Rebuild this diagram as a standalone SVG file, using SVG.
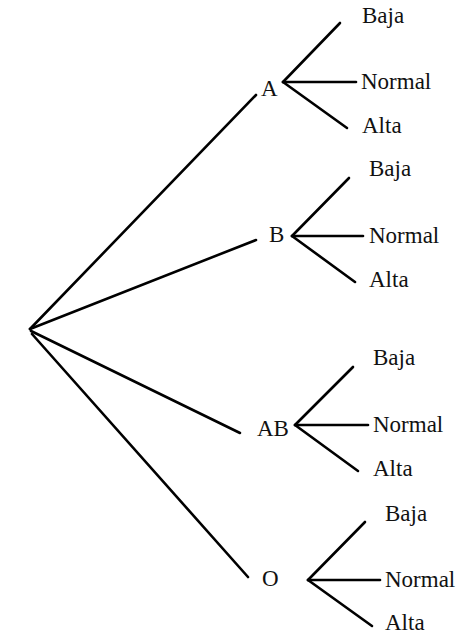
<svg xmlns="http://www.w3.org/2000/svg" width="474" height="641" viewBox="0 0 474 641">
<style>
line{stroke:#000;stroke-width:2.6;stroke-linecap:round}
text{font-family:"Liberation Serif","Times New Roman",serif;font-size:23px;fill:#111}
</style>
<rect width="474" height="641" fill="#fff"/>
<g id="connectors">
<line x1="30" y1="329" x2="256" y2="95"/>
<line x1="30" y1="329" x2="256" y2="240"/>
<line x1="31" y1="331" x2="240" y2="433"/>
<line x1="32" y1="334" x2="248" y2="577"/>
<line x1="283" y1="82" x2="340" y2="23"/>
<line x1="283" y1="82" x2="356" y2="82"/>
<line x1="283" y1="82" x2="347" y2="128"/>
<line x1="292" y1="236" x2="349" y2="178"/>
<line x1="292" y1="236" x2="363" y2="236"/>
<line x1="292" y1="236" x2="355" y2="282"/>
<line x1="295" y1="425" x2="353" y2="367"/>
<line x1="295" y1="425" x2="368" y2="425"/>
<line x1="295" y1="425" x2="358" y2="471"/>
<line x1="308" y1="580" x2="365" y2="522"/>
<line x1="308" y1="580" x2="380" y2="580"/>
<line x1="308" y1="580" x2="372" y2="626"/>
</g>
<g id="A"><text x="261" y="96">A</text></g>
<g id="A-Baja"><text x="362" y="23">Baja</text></g>
<g id="A-Normal"><text x="361" y="89">Normal</text></g>
<g id="A-Alta"><text x="362" y="133">Alta</text></g>
<g id="B"><text x="269" y="242">B</text></g>
<g id="B-Baja"><text x="369" y="176">Baja</text></g>
<g id="B-Normal"><text x="369" y="243">Normal</text></g>
<g id="B-Alta"><text x="369" y="287">Alta</text></g>
<g id="AB"><text x="257" y="436">AB</text></g>
<g id="AB-Baja"><text x="373" y="365">Baja</text></g>
<g id="AB-Normal"><text x="373" y="432">Normal</text></g>
<g id="AB-Alta"><text x="373" y="476">Alta</text></g>
<g id="O"><text x="262" y="586">O</text></g>
<g id="O-Baja"><text x="385" y="521">Baja</text></g>
<g id="O-Normal"><text x="385" y="587">Normal</text></g>
<g id="O-Alta"><text x="385" y="630">Alta</text></g>
</svg>
